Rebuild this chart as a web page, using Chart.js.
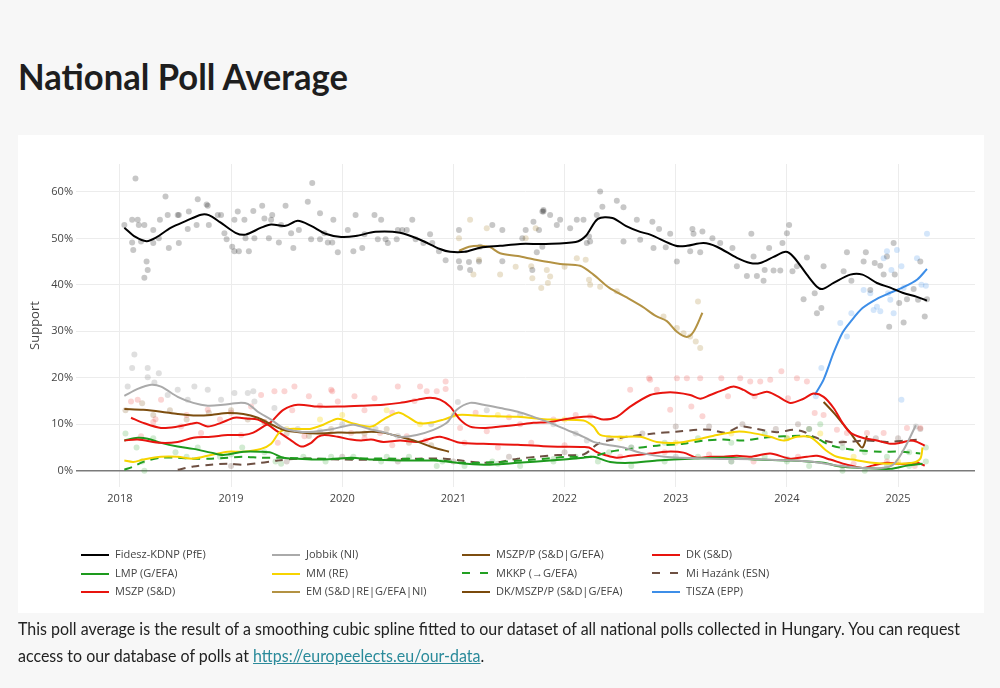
<!DOCTYPE html>
<html><head><meta charset="utf-8">
<script src="https://cdn.jsdelivr.net/npm/chart.js@4.4.1/dist/chart.umd.min.js"></script>
<style>
html,body{margin:0;padding:0;background:#f7f7f7;width:1000px;height:688px;overflow:hidden;}
#title{position:absolute;left:18px;top:57px;font-family:Lato,sans-serif;font-weight:700;font-size:37px;line-height:37px;color:#1e1e1e;white-space:nowrap;transform-origin:0 0;}
#panel{position:absolute;left:18px;top:135px;width:966px;height:478px;background:#fff;}
#wrap{position:absolute;left:0;top:0;width:966px;height:395px;}
#legend{position:absolute;left:0;top:0;width:1000px;height:688px;pointer-events:none;}
.li{position:absolute;font-family:"Open Sans",sans-serif;font-size:11px;color:#444;white-space:nowrap;line-height:14px;}
.sw{position:absolute;width:28px;height:0;top:7px;left:0;}
.li span{position:absolute;left:34px;top:0;}
#foot{position:absolute;left:18px;top:615px;font-family:Lato,sans-serif;font-size:18px;line-height:27px;color:#222;white-space:nowrap;}
#foot div{transform-origin:0 0;}
#foot a{color:#2a8a9a;text-decoration:underline;}
</style></head>
<body>
<div id="title">National Poll Average</div>
<div id="panel"><div id="wrap"><canvas id="c"></canvas></div></div>
<div id="legend"></div>
<div id="foot"><div id="f1">This poll average is the result of a smoothing cubic spline fitted to our dataset of all national polls collected in Hungary. You can request</div><div id="f2">access to our database of polls at <a href="#">https://europeelects.eu/our-data</a>.</div></div>
<script>
// ---------- data ----------
const yearTicks = [2018, 2019, 2020, 2021, 2022, 2023, 2024, 2025];
const supportTicks = [0, 10, 20, 30, 40, 50, 60];
const seriesNames = ["Fidesz-KDNP (PfE)", "Jobbik (NI)", "MSZP/P (S&D|G/EFA)", "DK (S&D)", "LMP (G/EFA)", "MM (RE)", "MKKP (\u2192G/EFA)", "Mi Haz\u00e1nk (ESN)", "MSZP (S&D)", "EM (S&D|RE|G/EFA|NI)", "DK/MSZP/P (S&D|G/EFA)", "TISZA (EPP)"];

const fidesz = [[2018.04,52.3],[2018.14,50.3],[2018.24,49.4],[2018.32,50.1],[2018.46,52.3],[2018.6,53.8],[2018.73,55.1],[2018.8,55],[2018.9,53.5],[2019.04,51.2],[2019.13,50.8],[2019.27,52.3],[2019.36,53],[2019.49,52.7],[2019.6,53.8],[2019.72,52.7],[2019.85,51],[2019.99,50.3],[2020.12,50.5],[2020.3,51.4],[2020.52,51.2],[2020.7,49.7],[2020.88,47.7],[2020.97,47.1],[2021.1,47.1],[2021.24,48],[2021.42,48.4],[2021.6,48.8],[2021.83,48.8],[2022.1,49.2],[2022.19,50.5],[2022.3,54.2],[2022.43,54.4],[2022.55,52.7],[2022.68,51.4],[2022.77,50.8],[2023.0,48.4],[2023.1,48.4],[2023.25,49],[2023.37,48.2],[2023.55,45.8],[2023.67,44.7],[2023.76,44.7],[2023.88,46],[2023.99,47.1],[2024.06,46],[2024.18,42.2],[2024.27,39.6],[2024.32,39.1],[2024.42,40.4],[2024.57,42.2],[2024.68,42.2],[2024.81,40.4],[2024.93,39.4],[2025.04,38.3],[2025.17,37.4],[2025.26,36.6]];
const jobbik = [[2018.04,16.1],[2018.16,17.6],[2018.28,18.5],[2018.37,18.1],[2018.52,15.9],[2018.66,14.6],[2018.79,14],[2018.93,14.2],[2019.07,14.6],[2019.15,14.4],[2019.24,12.7],[2019.36,11],[2019.47,9.2],[2019.62,8.4],[2019.74,8.4],[2019.87,8.8],[2020.01,9.5],[2020.1,9.9],[2020.27,8.8],[2020.39,8.2],[2020.52,7.3],[2020.67,7.7],[2020.82,8.8],[2020.94,10.3],[2021.03,13.1],[2021.15,14.6],[2021.27,14.2],[2021.42,13.5],[2021.58,12.7],[2021.72,11.6],[2021.87,10.3],[2022.02,8.8],[2022.17,7.3],[2022.26,6.2],[2022.38,5.6],[2022.53,5],[2022.68,3.9],[2022.9,3],[2023.3,2.6],[2023.8,2.4],[2024.2,2],[2024.5,1],[2024.8,0.5],[2024.95,1.2],[2025.05,4.5],[2025.16,9.8]];
const mszpP = [[2018.04,13.3],[2018.21,13.1],[2018.37,12.7],[2018.52,12.2],[2018.66,11.9],[2018.82,12],[2018.97,12.4],[2019.11,12.2],[2019.24,11.4],[2019.36,10],[2019.47,8.8],[2019.63,8.2],[2019.78,8],[2019.96,8.2],[2020.13,8.2],[2020.26,8.4],[2020.37,8.2],[2020.52,7.3],[2020.68,6.2],[2020.82,5],[2020.96,4.1]];
const dk = [[2018.04,6.5],[2018.16,6.7],[2018.37,6],[2018.52,6.2],[2018.66,7.1],[2018.82,7.3],[2018.97,7.7],[2019.11,7.7],[2019.2,8.2],[2019.29,9.5],[2019.36,10.5],[2019.47,13.1],[2019.6,14.2],[2019.78,13.8],[2019.96,13.8],[2020.17,14],[2020.37,14.2],[2020.52,14.6],[2020.68,15.3],[2020.79,15.7],[2020.88,15.3],[2020.97,13.8],[2021.06,11],[2021.15,9.5],[2021.27,9.2],[2021.42,9.5],[2021.58,9.9],[2021.72,10.3],[2021.87,10.5],[2022.03,11.2],[2022.17,11.6],[2022.26,11.6],[2022.35,11],[2022.47,11.6],[2022.59,13.8],[2022.77,16.3],[2022.89,16.8],[2023.01,16.8],[2023.13,16.3],[2023.22,15.5],[2023.31,16.3],[2023.43,17.4],[2023.52,18.1],[2023.61,17.4],[2023.7,16.3],[2023.82,17],[2023.91,16.1],[2024.03,14.6],[2024.15,15.5],[2024.24,16.6],[2024.33,15.9],[2024.42,13.5],[2024.5,10.3],[2024.57,8.2],[2024.68,7.1],[2024.81,6.5],[2024.93,5.8],[2025.02,6],[2025.11,6.5],[2025.17,6.2],[2025.24,5.4]];
const lmp = [[2018.04,6.5],[2018.16,7.1],[2018.25,6.9],[2018.37,6],[2018.52,5.2],[2018.66,4.7],[2018.82,3.9],[2018.93,3.4],[2019.11,4.1],[2019.27,4.1],[2019.36,3.9],[2019.47,2.8],[2019.6,2.6],[2019.78,2.4],[2019.96,2.6],[2020.08,2.8],[2020.26,2.4],[2020.52,2.2],[2020.82,2.2],[2020.97,1.9],[2021.12,1.5],[2021.33,1.3],[2021.58,1.7],[2021.87,2.2],[2022.17,2.8],[2022.26,3],[2022.41,1.9],[2022.59,1.7],[2022.83,2.2],[2023.13,2.6],[2023.43,2.8],[2023.73,2.4],[2024.03,2.2],[2024.33,1.7],[2024.48,0.9],[2024.68,0.6],[2024.93,0.4],[2025.08,1.1],[2025.22,1.5]];
const mm = [[2018.04,2.2],[2018.12,1.9],[2018.21,2.4],[2018.37,3],[2018.52,3],[2018.66,2.6],[2018.82,3.4],[2018.97,4.1],[2019.11,4.1],[2019.27,4.7],[2019.36,5.8],[2019.44,8.4],[2019.53,9],[2019.71,9],[2019.83,9.9],[2019.96,11.2],[2020.08,10.3],[2020.26,9.5],[2020.37,11],[2020.5,12.5],[2020.59,11.6],[2020.68,10.3],[2020.79,10.3],[2020.91,11],[2021.04,12],[2021.27,11.8],[2021.58,11.6],[2021.87,11],[2022.17,10.8],[2022.26,9.5],[2022.32,7.7],[2022.47,7.3],[2022.68,7.3],[2022.83,6.2],[2023.01,6],[2023.19,6.7],[2023.37,7.7],[2023.55,8.4],[2023.67,8.2],[2023.85,7.3],[2023.97,6.5],[2024.09,7.3],[2024.2,7.3],[2024.27,6.2],[2024.35,4.4],[2024.45,3],[2024.59,2.4],[2024.77,1.7],[2024.95,1.5],[2025.13,1.7],[2025.2,2.6],[2025.22,5]];
const mkkp = [[2018.04,0.2],[2018.12,0.9],[2018.21,1.9],[2018.37,2.8],[2018.52,2.8],[2018.66,2.6],[2018.82,2.6],[2018.97,2.8],[2019.11,3],[2019.27,2.8],[2019.42,2.8],[2019.72,2.6],[2020.01,2.6],[2020.5,2.6],[2020.8,2.4],[2021.1,1.7],[2021.42,1.9],[2021.72,2.4],[2022.03,3],[2022.23,3],[2022.41,4.1],[2022.59,4.7],[2022.83,5.4],[2023.07,5.8],[2023.25,6.5],[2023.43,6.7],[2023.61,6.5],[2023.79,7.1],[2023.97,7.4],[2024.15,7.5],[2024.27,6.9],[2024.39,5.5],[2024.59,4.5],[2024.84,4.1],[2025.02,4.1],[2025.2,3.7]];
const miHazank = [[2018.52,0.2],[2018.66,0.9],[2018.82,1.3],[2018.97,1.5],[2019.11,1.3],[2019.27,1.7],[2019.42,2.2],[2019.6,2.6],[2019.78,2.6],[2020.01,2.4],[2020.37,2.4],[2020.68,2.6],[2020.92,2.6],[2021.07,2.2],[2021.27,1.7],[2021.42,1.9],[2021.58,2.6],[2021.76,3],[2021.94,3.4],[2022.17,3.5],[2022.3,5.8],[2022.41,6.6],[2022.56,7.3],[2022.8,8],[2023.0,8.4],[2023.19,8.8],[2023.31,8.8],[2023.45,8.2],[2023.58,9.5],[2023.73,9],[2023.91,8.3],[2024.06,8.8],[2024.15,8.4],[2024.24,7.3],[2024.39,6.2],[2024.54,6.2],[2024.72,6.5],[2024.9,6.2],[2025.08,6.5],[2025.2,6.7]];
const mszp = [[2018.1,11.4],[2018.21,10.3],[2018.37,9.2],[2018.52,9.5],[2018.64,10.1],[2018.7,10.3],[2018.79,9.5],[2018.91,10.3],[2019.03,11.4],[2019.15,11.2],[2019.24,11],[2019.33,9.9],[2019.42,8.4],[2019.53,6.7],[2019.63,5.2],[2019.72,6],[2019.78,7.3],[2019.84,7.7],[2019.96,7.3],[2020.08,6.7],[2020.17,6.5],[2020.26,6.7],[2020.37,6.2],[2020.52,6.5],[2020.68,6.2],[2020.82,7.1],[2020.88,7.3],[2020.97,6.7],[2021.06,6],[2021.27,5.8],[2021.58,5.6],[2021.87,5.2],[2022.17,5.1],[2022.22,5],[2022.29,4],[2022.36,3.4],[2022.47,2.8],[2022.59,3.2],[2022.77,3.7],[2022.92,4.1],[2023.07,3.9],[2023.19,2.8],[2023.31,3],[2023.43,3],[2023.55,3.2],[2023.67,3],[2023.85,3.7],[2024.03,2.6],[2024.18,3],[2024.27,3.2],[2024.39,2.4],[2024.54,1.3],[2024.68,0.6],[2024.77,1.1],[2024.9,1.7],[2024.99,1.5],[2025.08,1.5],[2025.17,1.7],[2025.24,1.1]];
const em = [[2021.05,47.3],[2021.14,48.2],[2021.25,48.4],[2021.33,48.1],[2021.42,46.8],[2021.58,46.2],[2021.74,45.4],[2021.96,44.5],[2022.14,44.1],[2022.26,42.2],[2022.4,39.4],[2022.55,37.4],[2022.7,35.3],[2022.82,33.3],[2022.92,32.2],[2023.01,29.9],[2023.1,28.8],[2023.16,29.9],[2023.24,34]];
const dkMszpP = [[2024.33,14.8],[2024.42,12.5],[2024.51,9.9],[2024.57,8.2],[2024.63,6.2],[2024.68,5],[2024.72,7.5]];
const tisza = [[2024.25,16.3],[2024.33,19.6],[2024.42,25.4],[2024.5,29.7],[2024.57,32],[2024.68,35],[2024.81,37],[2024.93,38.3],[2025.04,39.4],[2025.17,41.1],[2025.26,43.4]];

// individual polls
const fideszPolls = [[2018.04,52.9],[2018.11,54],[2018.16,54],[2018.14,62.9],[2018.17,52.9],[2018.11,49.1],[2018.12,47.5],[2018.22,52.9],[2018.19,49.3],[2018.24,45],[2018.25,43.2],[2018.22,41.5],[2018.3,51.8],[2018.3,49],[2018.35,50],[2018.36,54],[2018.41,59],[2018.43,55],[2018.44,47.9],[2018.52,55],[2018.53,55],[2018.53,49],[2018.61,52],[2018.62,55.8],[2018.7,58.4],[2018.69,52.9],[2018.78,57.3],[2018.79,57],[2018.8,52.9],[2018.88,55],[2018.91,55],[2018.94,51.1],[2018.96,49.8],[2019.03,54],[2019.01,48.2],[2019.03,47.2],[2019.07,47.2],[2019.06,55.8],[2019.12,54],[2019.13,50],[2019.16,47.2],[2019.2,55.9],[2019.21,50],[2019.28,57],[2019.3,54.3],[2019.34,50],[2019.36,54],[2019.37,55],[2019.43,49.1],[2019.45,52.9],[2019.49,57],[2019.54,51.1],[2019.56,47.9],[2019.61,51.8],[2019.69,57.9],[2019.73,61.9],[2019.72,49.8],[2019.8,55.4],[2019.8,49.8],[2019.84,51.1],[2019.87,49.1],[2019.91,49.1],[2019.92,54],[2019.96,47],[2020.05,51.8],[2020.1,47.2],[2020.12,55],[2020.18,47.9],[2020.2,50.9],[2020.29,55],[2020.32,49.8],[2020.35,54],[2020.39,49.8],[2020.41,49],[2020.49,49.8],[2020.5,51.8],[2020.54,51.8],[2020.58,51.8],[2020.63,54],[2020.66,49.8],[2020.73,49],[2020.79,50.9],[2020.81,49],[2020.87,47.2],[2020.93,45.3],[2021.05,51.8],[2021.05,45.1],[2021.06,43.7],[2021.14,44.9],[2021.15,43.2],[2021.23,45],[2021.24,48.2],[2021.35,52.9],[2021.44,51.8],[2021.44,45.1],[2021.62,50],[2021.65,51.8],[2021.71,43.2],[2021.75,47],[2021.77,51.8],[2021.8,55.8],[2021.81,55.8],[2021.8,48.2],[2021.72,53.6],[2021.81,56.1],[2021.87,55],[2021.93,52.9],[2021.96,54],[2022.05,52.2],[2022.11,54],[2022.17,54],[2022.22,50.4],[2022.23,49.3],[2022.2,49],[2022.32,60.1],[2022.34,56.8],[2022.29,55],[2022.47,58.1],[2022.53,56.7],[2022.53,49.3],[2022.65,54],[2022.68,49.7],[2022.79,53.6],[2022.8,47.9],[2022.85,52],[2022.91,48.1],[2022.95,51],[2023.01,45],[2023.15,52],[2023.16,51],[2023.13,47.2],[2023.22,47],[2023.24,51.5],[2023.33,50],[2023.4,49],[2023.51,47.9],[2023.55,44],[2023.64,41.9],[2023.68,51],[2023.7,46.1],[2023.73,41.9],[2023.79,40.9],[2023.8,43.2],[2023.84,47.9],[2023.88,43.1],[2023.94,43.1],[2023.96,49],[2024.0,51.1],[2024.02,52.9],[2024.05,42.9],[2024.09,44],[2024.15,36.9],[2024.18,45.9],[2024.25,38.2],[2024.27,33.9],[2024.31,35],[2024.33,44],[2024.51,42.9],[2024.54,47],[2024.58,40.9],[2024.69,45],[2024.71,47],[2024.75,38.9],[2024.79,44.7],[2024.84,44.1],[2024.87,42.2],[2024.9,46.1],[2024.92,31],[2024.96,49],[2024.97,42.2],[2025.01,36.1],[2025.05,31.9],[2025.08,36.9],[2025.14,39.1],[2025.18,36.8],[2025.2,45],[2025.24,33.2],[2025.26,36.9]];
const emPolls = [[2021.05,50],[2021.15,54],[2021.18,42.2],[2021.23,45.4],[2021.3,52.2],[2021.42,42.2],[2021.56,43.9],[2021.65,50],[2021.74,52.2],[2021.71,41.4],[2021.84,43.2],[2022.0,43.9],[2022.11,45.7],[2022.19,45.4],[2022.22,41.1],[2022.23,40],[2022.32,39.6],[2022.47,38.6],[2022.89,33.2],[2023.01,30.7],[2023.13,28.9],[2023.18,27.8],[2023.22,26.4],[2023.2,36.4],[2023.07,29.6],[2021.79,39.3],[2021.85,40.4],[2021.87,41.8],[2021.7,44]];
const tiszaPolls = [[2024.26,16],[2024.31,22.1],[2024.48,31.8],[2024.54,28.9],[2024.58,33.9],[2024.69,38.9],[2024.75,38.2],[2024.78,34.6],[2024.81,35.3],[2024.84,34.3],[2024.87,45.7],[2024.9,47.2],[2024.91,38.2],[2024.93,36.8],[2024.94,43.2],[2024.96,33.9],[2024.99,47.5],[2025.03,44],[2025.05,39.3],[2025.17,45.7],[2025.21,40],[2025.25,39.8],[2025.26,51],[2025.03,15.3]];
const redPolls = [[2018.1,14.9],[2018.16,15.3],[2018.37,15.3],[2018.32,11.1],[2018.55,9.5],[2018.73,8.1],[2018.19,7.4],[2018.79,13.1],[2019.09,7.7],[2019.18,13.8],[2019.27,16.3],[2019.39,17.1],[2019.42,6],[2019.48,17.1],[2019.57,18.1],[2019.66,7.4],[2019.7,16],[2019.91,17.1],[2019.96,14.9],[2019.9,17.4],[2020.11,16],[2020.29,15.6],[2020.5,18.1],[2020.7,18.1],[2020.76,17.1],[2020.85,17.1],[2020.93,19.2],[2020.93,17.6],[2020.08,8.1],[2020.34,8.1],[2020.58,7.4],[2021.06,9.2],[2022.23,11.7],[2022.59,17.4],[2022.76,19.9],[2022.83,17.4],[2022.77,19.6],[2023.01,19.9],[2023.1,19.9],[2023.22,19.9],[2023.41,19.9],[2023.58,19.9],[2023.67,19.2],[2023.76,19.2],[2023.85,19.6],[2023.95,21.4],[2024.09,19.9],[2024.18,19.2],[2022.95,13.1],[2023.14,13.8],[2023.24,11.7],[2023.47,16],[2023.71,16],[2024.01,15.6],[2024.25,12.4],[2024.33,12],[2024.45,8.8],[2024.54,8.1],[2024.72,8.1],[2024.87,8.1],[2025.08,9.2],[2025.2,9.2],[2021.3,8.5],[2021.6,10],[2021.9,11],[2022.1,12],[2021.2,12.5],[2021.5,11.5],[2018.3,10.5],[2018.6,12],[2018.9,11],[2019.0,12.5],[2019.3,10.5],[2019.55,13],[2019.8,14],[2020.2,13],[2020.45,12.5],[2020.65,15],[2020.2,7],[2020.45,5.5],[2020.75,6.5],[2021.1,6],[2021.4,5],[2021.7,6],[2022.0,5.5],[2022.5,3],[2022.9,4],[2023.3,3.5],[2023.7,2],[2024.1,3],[2024.6,1.5],[2024.9,2],[2025.15,1]];
const jobbikPolls = [[2018.13,25],[2018.11,22.1],[2018.25,22.1],[2018.35,21],[2018.25,20.1],[2018.31,19],[2018.07,18.1],[2018.52,17.4],[2018.79,17.4],[2018.67,18.1],[2019.03,16.7],[2019.15,16.7],[2019.2,17.1],[2018.43,16.3],[2018.61,15.3],[2018.91,15.3],[2019.21,14.9],[2019.39,13.5],[2019.6,9],[2019.8,8.5],[2020.0,10],[2020.3,9],[2020.5,7.5],[2020.8,10],[2021.04,14.8],[2021.3,13],[2021.6,12],[2021.9,10],[2022.1,8],[2022.2,6.5],[2022.6,5],[2023.0,3],[2023.5,2],[2024.0,2.5],[2024.5,1],[2024.9,0.5],[2025.16,9.5]];
const brownPolls = [[2018.05,13],[2018.2,14.5],[2018.3,12],[2018.45,13],[2018.6,11],[2018.8,12.5],[2019.0,13],[2019.15,11],[2019.3,10.5],[2019.5,8],[2019.7,7.5],[2019.9,9],[2020.2,8],[2020.4,9],[2020.6,6],[2020.8,5.5]];
const greenPolls = [[2018.05,8],[2018.15,5],[2018.22,0],[2018.3,7],[2018.5,4],[2018.7,5],[2018.9,3],[2019.1,5],[2019.3,4],[2019.45,1.5],[2019.65,3],[2019.85,2],[2020.1,3],[2020.35,2],[2020.6,3],[2020.85,1],[2021.1,1],[2021.35,2],[2021.6,1],[2021.9,2.5],[2022.1,3],[2022.3,2],[2022.6,1],[2022.9,2],[2023.2,3],[2023.5,2],[2023.8,3],[2024.0,2],[2024.2,1],[2024.5,0],[2024.7,0],[2024.9,1],[2025.1,1],[2025.25,2],[2018.2,2],[2018.6,3],[2019.0,3.5],[2019.4,2],[2019.9,3],[2020.4,3],[2020.9,2],[2021.4,1.5],[2021.9,2],[2022.4,4],[2022.6,5],[2022.9,6],[2023.2,7],[2023.5,6],[2023.8,8],[2024.0,7],[2024.2,9],[2024.3,10],[2024.5,5],[2024.7,4],[2024.9,3],[2025.1,4],[2025.25,5]];
const miPolls = [[2019.0,1],[2019.5,2],[2020.0,3],[2020.5,2],[2021.0,2],[2021.5,3],[2022.0,4],[2022.4,7],[2022.7,8],[2023.0,9.5],[2023.3,9.5],[2023.6,10],[2023.9,9],[2024.1,10],[2024.2,9],[2024.5,6],[2024.8,7],[2025.0,7],[2025.2,9]];
const mmPolls = [[2019.5,9],[2019.8,11],[2020.0,12],[2020.4,13],[2020.7,10],[2021.0,12],[2021.4,12],[2022.0,11],[2022.5,7],[2023.0,6],[2023.5,8],[2024.0,7],[2024.3,8],[2024.6,3],[2025.0,2]];

// ---------- styles ----------
const lineSeries = [fidesz, jobbik, mszpP, dk, lmp, mm, mkkp, miHazank, mszp, em, dkMszpP, tisza];
const lineColors = ["#000000", "#aaaaaa", "#7d4e10", "#e8140e", "#1d9a1d", "#f7d400", "#22a022", "#6e5043", "#e8140e", "#b39243", "#7a4a0c", "#3d8ee8"];
const lineDash = [[], [], [], [], [], [], [8, 6], [8, 6], [], [], [], []];
const pollSets = [[fideszPolls, "rgba(0,0,0,0.22)"], [emPolls, "rgba(181,148,74,0.28)"], [tiszaPolls, "rgba(61,142,232,0.22)"], [redPolls, "rgba(232,20,14,0.18)"], [jobbikPolls, "rgba(140,140,140,0.28)"], [brownPolls, "rgba(125,78,16,0.22)"], [greenPolls, "rgba(29,154,29,0.2)"], [miPolls, "rgba(110,80,67,0.25)"], [mmPolls, "rgba(247,212,0,0.3)"]];

const datasets = [];
lineSeries.forEach((s, i) => datasets.push({
  label: seriesNames[i], data: s, borderColor: lineColors[i], backgroundColor: lineColors[i],
  borderWidth: 2, borderDash: lineDash[i], pointRadius: 0, fill: false,
  tension: 0.3, order: 1
}));
pollSets.forEach(([d, c]) => datasets.push({
  label: '', data: d, showLine: false, pointRadius: 3, pointBorderWidth: 0,
  pointBackgroundColor: c, backgroundColor: c, borderColor: c, order: 10
}));

const tickFont = {family: "'Open Sans', sans-serif", size: 11};
new Chart(document.getElementById('c'), {
  type: 'line',
  data: {datasets},
  options: {
    responsive: true, maintainAspectRatio: false, animation: false,
    layout: {padding: {top: 29, right: 9, left: 0, bottom: 0}},
    plugins: {legend: {display: false}, tooltip: {enabled: false}},
    scales: {
      x: {
        type: 'linear', min: 2017.605, max: 2025.692,
        afterBuildTicks: s => { s.ticks = yearTicks.map(v => ({value: v})); },
        afterFit: s => { s.height = 43; },
        ticks: {callback: v => String(v), font: tickFont, color: '#444', padding: 5, maxRotation: 0, autoSkip: false},
        grid: {color: '#ececec', drawTicks: false}, border: {display: false}
      },
      y: {
        type: 'linear', min: -3.5, max: 66,
        afterBuildTicks: s => { s.ticks = supportTicks.map(v => ({value: v})); },
        afterFit: s => { s.width = 58; },
        ticks: {callback: v => v + '%', font: tickFont, color: '#444', padding: 3},
        grid: {color: c => c.tick && c.tick.value === 0 ? '#7a7a7a' : '#ececec', lineWidth: c => c.tick && c.tick.value === 0 ? 1.6 : 1, drawTicks: false},
        border: {display: false},
        title: {display: true, text: 'Support', color: '#444', font: {family: "'Open Sans', sans-serif", size: 13}, padding: {top: 9, bottom: 0}}
      }
    }
  }
});

// ---------- legend ----------
const legCols = [81, 272, 462, 652];
const legRows = [547, 566, 584];
const leg = document.getElementById('legend');
seriesNames.forEach((n, i) => {
  const col = i % 4, row = Math.floor(i / 4);
  const d = document.createElement('div');
  d.className = 'li';
  d.style.left = legCols[col] + 'px'; d.style.top = legRows[row] + 'px';
  const sw = document.createElement('div');
  sw.className = 'sw';
  sw.style.borderTop = '2px solid ' + lineColors[i];
  if (lineDash[i].length) { sw.style.borderTop = 'none'; sw.style.height = '2px'; sw.style.top = '6px';
    sw.style.background = 'linear-gradient(to right,' + lineColors[i] + ' 0 8px, transparent 8px 18px,' + lineColors[i] + ' 18px 26px, transparent 26px)'; }
  const t = document.createElement('span'); t.textContent = n;
  d.appendChild(sw); d.appendChild(t); leg.appendChild(d);
});

// ---------- fit text widths ----------
function fit() {
  const ti = document.getElementById('title');
  ti.style.display = 'inline-block';
  ti.style.transform = 'scaleX(' + (330 / ti.getBoundingClientRect().width) + ')';
  const f1 = document.getElementById('f1'), f2 = document.getElementById('f2');
  f1.style.display = 'inline-block'; f2.style.display = 'inline-block';
  const k = 942 / f1.getBoundingClientRect().width;
  f1.style.transform = 'scaleX(' + k + ')'; f2.style.transform = 'scaleX(' + k + ')';
  f1.style.display = 'block'; f2.style.display = 'block';
}
if (document.fonts && document.fonts.ready) document.fonts.ready.then(fit); else fit();
</script>
</body></html>
